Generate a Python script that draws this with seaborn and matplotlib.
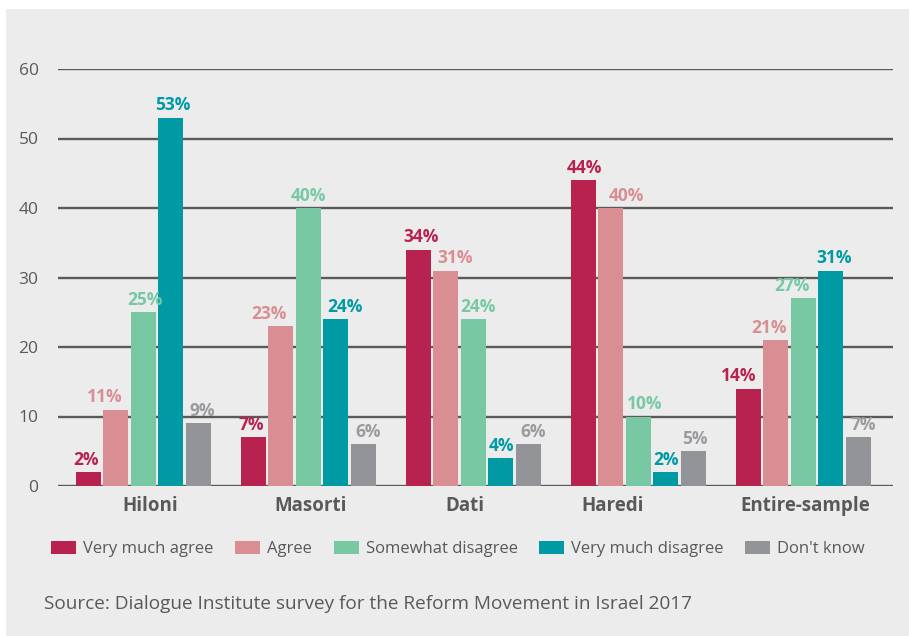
import matplotlib
matplotlib.use("Agg")
import matplotlib.pyplot as plt
from matplotlib.patches import Rectangle
from matplotlib.transforms import ScaledTranslation
import seaborn as sns
import pandas as pd

categories = ["Hiloni", "Masorti", "Dati", "Haredi", "Entire-sample"]
series_names = ["Very much agree", "Agree", "Somewhat disagree", "Very much disagree", "Don't know"]
very_much_agree = [2, 7, 34, 44, 14]
agree = [11, 23, 31, 40, 21]
somewhat_disagree = [25, 40, 24, 10, 27]
very_much_disagree = [53, 24, 4, 2, 31]
dont_know = [9, 6, 6, 5, 7]
y_ticks = [0, 10, 20, 30, 40, 50, 60]
source_text = "Source: Dialogue Institute survey for the Reform Movement in Israel 2017"

colors = ["#b8224f", "#d88e93", "#77c8a3", "#009aa5", "#939497"]
label_colors = ["#b8224f", "#d88e93", "#77c8a3", "#009aa5", "#9a9b9e"]
text_color = "#58595b"
bg = "#ececec"

# horizontal nudges (pixels) of the value labels, as in the original layout
label_nudge_px = [
    [-2, -2.5, 3, 1, -10],
    [-11, -12, 9, 15, -7],
    [2, 0, 5, 6.5, -11],
    [2, 9, 1, 0, 3],
    [4, 4.5, 4.5, 1, 5],
]
tick_shift_px = [6.5, 2, -9, -26, 1.5]

rows = []
for name, vals in zip(series_names, [very_much_agree, agree, somewhat_disagree,
                                     very_much_disagree, dont_know]):
    for c, v in zip(categories, vals):
        rows.append({"group": c, "response": name, "value": v})
df = pd.DataFrame(rows)

sns.set_theme(style="white")
plt.rcParams["font.family"] = ["Open Sans", "DejaVu Sans"]

W, H = 909, 636
fig = plt.figure(figsize=(W / 100, H / 100), dpi=100)
fig.patch.set_facecolor("white")
fig.patches.append(Rectangle((6 / W, 0), 1 - 6 / W, 1 - 9 / H, transform=fig.transFigure,
                             facecolor=bg, edgecolor="none", zorder=-10))

ax = fig.add_axes([58 / W, 1 - 486 / H, 835 / W, (486 - 69) / H])
ax.set_facecolor("none")

sns.barplot(data=df, x="group", y="value", hue="response", order=categories,
            hue_order=series_names, palette=colors, width=0.833, gap=0.09,
            saturation=1, ax=ax, legend=False, zorder=3, linewidth=0)

pad = 2.5
for cont, lc, nudges in zip(ax.containers, label_colors, label_nudge_px):
    anns = ax.bar_label(cont, labels=[f"{int(round(b.get_height()))}%" for b in cont],
                        color=lc, fontweight="bold", fontsize=12.5, padding=pad)
    for a, dx in zip(anns, nudges):
        a.xyann = (dx * 0.72, pad)

ax.set_xlim(-0.518, 4.543)
ax.set_ylim(0, 60)
ax.set_yticks(y_ticks)
ax.yaxis.grid(True, color="#5a5a5a", linewidth=1.7, zorder=0)
ax.set_axisbelow(True)
for s in ax.spines.values():
    s.set_visible(False)
ax.tick_params(axis="y", length=0, pad=14, labelsize=12.5, labelcolor=text_color)
ax.tick_params(axis="x", length=0, pad=7, labelsize=13.5, labelcolor=text_color)
for t, dx in zip(ax.get_xticklabels(), tick_shift_px):
    t.set_fontweight("bold")
    t.set_transform(t.get_transform() + ScaledTranslation(dx / 100, 0, fig.dpi_scale_trans))
ax.set_xlabel("")
ax.set_ylabel("")

handles = [Rectangle((0, 0), 1, 1, facecolor=c, edgecolor="none") for c in colors]
fig.legend(handles, series_names, loc="center", bbox_to_anchor=(458 / W, 1 - 549 / H),
           ncol=5, frameon=False, fontsize=12, handlelength=1.5, handleheight=0.85,
           handletextpad=0.42, columnspacing=1.3, labelcolor=text_color)

fig.text(44 / W, 1 - 609 / H, source_text, fontsize=13.7, color=text_color,
         ha="left", va="baseline")

fig.savefig("out.png", dpi=100)
